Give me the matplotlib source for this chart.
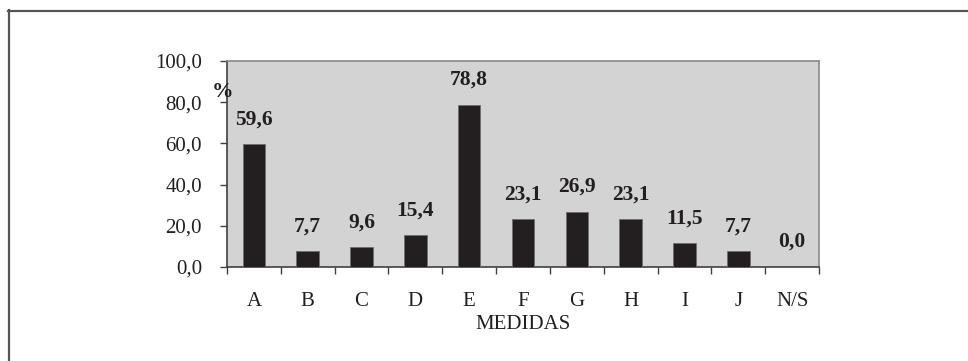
import matplotlib
matplotlib.use("Agg")
import matplotlib.pyplot as plt
import numpy as np

categories = ["A", "B", "C", "D", "E", "F", "G", "H", "I", "J", "N/S"]
values = [59.6, 7.7, 9.6, 15.4, 78.8, 23.1, 26.9, 23.1, 11.5, 7.7, 0.0]
y_ticks = [0, 20, 40, 60, 80, 100]
x_label = "MEDIDAS"
y_unit = "%"

plt.rcParams["font.family"] = ["Liberation Serif", "DejaVu Serif"]
FS = 15
FS_BOLD = 15.5

fig = plt.figure(figsize=(9.68, 3.61), dpi=100)
W, H = 968, 361

# outer frame: top and left rules
fig.add_artist(plt.Line2D([8 / W, 1.0], [1 - 10.5 / H, 1 - 10.5 / H], color="#555555", lw=1.6))
fig.add_artist(plt.Line2D([8.5 / W, 8.5 / W], [0.0, 1 - 10 / H], color="#555555", lw=1.6))

ax = fig.add_axes([227 / W, 1 - 267 / H, (819 - 227) / W, (267 - 61) / H])
ax.set_facecolor("#d3d3d4")

x = np.arange(len(categories))
ax.bar(x, values, width=0.42, color="#231f20", edgecolor="#6e6e6e", linewidth=0.6, zorder=3)

for xi, v in zip(x, values):
    ax.annotate(f"{v:.1f}".replace(".", ","), (xi, v), xytext=(0, 18),
                textcoords="offset points", ha="center", va="center",
                fontsize=FS_BOLD, fontweight="bold", color="#231f20")

ax.set_xlim(-0.5, len(categories) - 0.5)
ax.set_ylim(0, 100)

ax.set_yticks(y_ticks)
ax.set_yticklabels([f"{t:.1f}".replace(".", ",") for t in y_ticks], fontsize=FS, color="#231f20")
ax.tick_params(axis="y", direction="out", length=5, width=1, color="#404040", pad=13)

# tick marks on category boundaries, labels at category centres
ax.set_xticks(np.arange(-0.5, len(categories), 1.0))
ax.set_xticklabels([])
ax.set_xticks(x, minor=True)
ax.set_xticklabels(categories, minor=True, fontsize=FS, color="#231f20")
ax.tick_params(axis="x", which="major", direction="out", length=5, width=1, color="#404040")
ax.tick_params(axis="x", which="minor", length=0, pad=18)

ax.set_xlabel(x_label, fontsize=FS, color="#231f20", labelpad=3)

for side in ("top", "right"):
    ax.spines[side].set_color("#8a8a8a")
    ax.spines[side].set_linewidth(1.2)
for side in ("left", "bottom"):
    ax.spines[side].set_color("#404040")
    ax.spines[side].set_linewidth(1.2)

fig.text(222 / W, 1 - 92 / H, y_unit, fontsize=FS_BOLD, fontweight="bold",
         ha="center", va="center", color="#231f20")

fig.savefig("out.png", dpi=100)
